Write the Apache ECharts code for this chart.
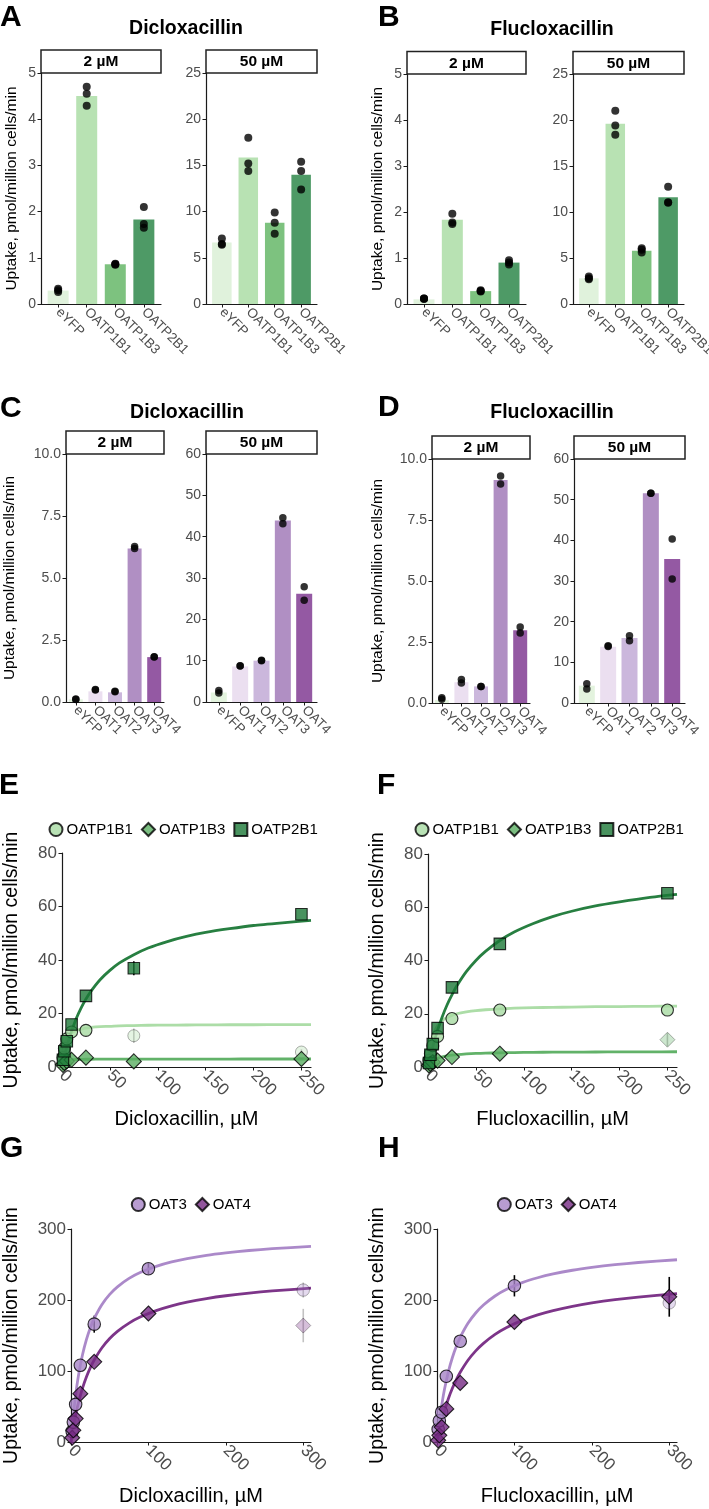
<!DOCTYPE html>
<html><head><meta charset="utf-8">
<script src="https://cdn.jsdelivr.net/npm/echarts@6/dist/echarts.min.js"></script>
<style>html,body{margin:0;padding:0;background:#fff}#c{width:709px;height:1509px}</style>
</head><body><div id="c"></div>
<script>
// ---------------- DATA ----------------
const catsOATP = ['eYFP', 'OATP1B1', 'OATP1B3', 'OATP2B1'];
const catsOAT = ['eYFP', 'OAT1', 'OAT2', 'OAT3', 'OAT4'];

// Panel A: Dicloxacillin, OATP
const dicloOATP2Bars = [0.29, 4.50, 0.86, 1.83];
const dicloOATP2Pts = [[0.26, 0.30, 0.33], [4.70, 4.55, 4.29], [0.85, 0.86, 0.87], [2.10, 1.73, 1.65]];
const dicloOATP50Bars = [6.66, 15.85, 8.8, 14.0];
const dicloOATP50Pts = [[7.1, 6.5, 6.4], [18.0, 15.2, 14.4], [9.9, 8.8, 7.6], [15.4, 14.4, 12.4]];
// Panel B: Flucloxacillin, OATP
const fluOATP2Bars = [0.10, 1.83, 0.28, 0.90];
const fluOATP2Pts = [[0.12, 0.11, 0.12], [1.96, 1.77, 1.74], [0.30, 0.27, 0.28], [0.95, 0.90, 0.86]];
const fluOATP50Bars = [2.79, 19.6, 5.8, 11.6];
const fluOATP50Pts = [[3.0, 2.8, 2.7], [21.0, 19.4, 18.4], [6.05, 5.9, 5.6], [12.75, 11.05, 11.0]];
// Panel C: Dicloxacillin, OAT
const dicloOAT2Bars = [0.11, 0.43, 0.39, 6.19, 1.81];
const dicloOAT2Pts = [[0.12, 0.10], [0.50, 0.48], [0.43, 0.41], [6.27, 6.19], [1.81, 1.82]];
const dicloOAT50Bars = [2.3, 8.6, 10.0, 43.9, 26.2];
const dicloOAT50Pts = [[2.8, 2.2], [8.8, 8.7], [10.1, 10.0], [44.6, 43.1], [27.9, 24.6]];
// Panel D: Flucloxacillin, OAT
const fluOAT2Bars = [0.12, 0.85, 0.68, 9.14, 2.98];
const fluOAT2Pts = [[0.22, 0.15], [0.96, 0.82], [0.68, 0.68], [9.3, 8.98], [3.11, 2.87]];
const fluOAT50Bars = [4.26, 13.85, 16.0, 51.6, 35.4];
const fluOAT50Pts = [[4.75, 3.44], [14.1, 13.9], [16.56, 15.3], [51.6, 51.6], [40.3, 30.5]];

// Panel E: Dicloxacillin kinetics (OATP) [conc, uptake]
const eOATP1B1 = [[1, 3.5], [2.5, 7], [5, 10.5], [10, 13.1], [25, 13.7]];
const eOATP1B1Excl = [[75, 11.7], [250, 5.6]];
const eOATP1B3 = [[1, 0.8], [2.5, 1.5], [5, 2.2], [10, 2.7], [25, 3.5], [75, 2.1], [250, 3.0]];
const eOATP2B1 = [[1, 2.7], [2.5, 5.9], [5, 9.6], [10, 15.9], [25, 26.6], [75, 36.9], [250, 57.1]];
const eErr = [[75, 36.9, 2.6]];
const eErrExcl = [[75, 11.7, 2.7], [250, 5.6, 1.0]];
// fitted curves
const eFitX = [0, 1, 2.5, 5, 7.5, 10, 15, 20, 25, 30, 40, 50, 60, 75, 90, 110, 130, 150, 175, 200, 230, 260];
const eFitOATP1B1 = [0, 4.6, 8.0, 10.7, 12.0, 12.8, 13.7, 14.2, 14.5, 14.8, 15.1, 15.2, 15.4, 15.5, 15.6, 15.65, 15.7, 15.75, 15.8, 15.8, 15.85, 15.85];
const eFitOATP1B3 = [0, 1.5, 2.1, 2.5, 2.65, 2.7, 2.8, 2.85, 2.9, 2.9, 2.93, 2.94, 2.95, 2.96, 2.97, 2.97, 2.98, 2.98, 2.98, 2.99, 2.99, 2.99];
const eFitOATP2B1 = [0, 1.67, 4.0, 7.5, 10.65, 13.4, 18.2, 22.1, 25.4, 28.2, 32.7, 36.1, 38.9, 42.0, 44.5, 46.9, 48.8, 50.3, 51.7, 52.9, 53.9, 54.8];

// Panel F: Flucloxacillin kinetics (OATP)
const fOATP1B1 = [[1, 2.5], [2.5, 5], [5, 8], [10, 11.5], [25, 18.2], [75, 21.4], [250, 21.4]];
const fOATP1B3 = [[1, 0.6], [2.5, 1.2], [5, 1.8], [10, 2.4], [25, 3.75], [75, 5.0]];
const fOATP1B3Excl = [[250, 10.25]];
const fOATP2B1 = [[1, 1.5], [2.5, 4.6], [5, 8.6], [10, 14.6], [25, 29.9], [75, 46.25], [250, 65.25]];
const fErr = [];
const fErrExcl = [[250, 10.25, 2.5]];
const fFitX = [0, 1, 2.5, 5, 7.5, 10, 15, 20, 25, 30, 40, 50, 60, 75, 90, 110, 130, 150, 175, 200, 230, 260];
const fFitOATP1B1 = [0, 3.9, 7.8, 11.65, 14.0, 15.5, 17.5, 18.6, 19.4, 20.0, 20.7, 21.2, 21.5, 21.8, 22.1, 22.3, 22.4, 22.5, 22.65, 22.7, 22.8, 22.9];
const fFitOATP1B3 = [0, 0.66, 1.4, 2.3, 2.85, 3.3, 3.85, 4.2, 4.45, 4.65, 4.9, 5.1, 5.2, 5.33, 5.42, 5.5, 5.56, 5.6, 5.64, 5.67, 5.7, 5.72];
const fFitOATP2B1 = [0, 1.65, 4.0, 7.6, 10.9, 13.8, 19.0, 23.4, 27.1, 30.4, 35.8, 40.0, 43.4, 47.5, 50.7, 53.9, 56.5, 58.5, 60.5, 62.0, 63.6, 64.8];

// Panel G: Dicloxacillin kinetics (OAT)
const gOAT3 = [[1.5, 15], [3, 28], [6, 53], [12, 108], [30, 166], [100, 244]];
const gOAT3Excl = [[300, 214]];
const gOAT4 = [[1.5, 6], [3, 16.5], [6, 33], [12, 68], [30, 113], [100, 181]];
const gOAT4Excl = [[300, 164]];
const gErr = [[30, 166, 12], [100, 244, 8]];
const gErrExcl = [[300, 214, 10.6], [300, 164, 23.5]];
const gFitX = [0, 1, 2, 3.5, 5, 7.5, 10, 15, 20, 25, 30, 40, 50, 60, 75, 90, 110, 130, 150, 175, 200, 230, 260, 310];
const gFitOAT3 = [0, 13.5, 25.9, 42.5, 57.2, 78.4, 95.8, 123.5, 144.5, 160.8, 174, 193.8, 208, 218.6, 230.4, 239, 247.4, 253.6, 258.3, 263, 266.4, 269.7, 272.3, 275.6];
const gFitOAT4 = [0, 7.2, 14, 23.6, 32.3, 45.4, 56.9, 76.3, 91.9, 104.8, 115.6, 132.8, 145.7, 155.9, 167.5, 176.3, 185.1, 191.8, 197, 202, 206, 209.8, 212.8, 216.6];

// Panel H: Flucloxacillin kinetics (OAT)
const hOAT3 = [[1.5, 18], [3, 30], [6, 42], [12, 92.6], [30, 142], [100, 220]];
const hOAT3Excl = [[300, 196]];
const hOAT4 = [[1.5, 2.3], [3, 9.4], [6, 21], [12, 46.5], [30, 83.2], [100, 169], [300, 204.5]];
const hOAT4Excl = [];
const hErr = [[100, 220, 15], [300, 204.5, 28]];
const hErrExcl = [[300, 196, 6]];
const hFitX = [0, 1, 2, 3.5, 5, 7.5, 10, 15, 20, 25, 30, 40, 50, 60, 75, 90, 110, 130, 150, 175, 200, 230, 260, 310];
const hFitOAT3 = [0, 10.1, 19.4, 32.3, 44, 61.1, 76, 100.3, 119.4, 134.8, 147.5, 167.2, 181.7, 192.9, 205.6, 215, 224.4, 231.3, 236.7, 241.9, 245.9, 249.8, 252.8, 256.7];
const hFitOAT4 = [0, 5.5, 10.7, 18.1, 25, 35.6, 45.2, 62, 76, 87.9, 98.3, 115.2, 128.4, 139, 151.6, 161.3, 171.3, 179, 185, 191.1, 195.9, 200.5, 204.1, 208.9];

const xTicksOATP = [0, 50, 100, 150, 200, 250];
const xTicksOAT = [0, 100, 200, 300];

// ---------------- STYLE ----------------
const FONT = '"Liberation Sans", Arial, Helvetica, sans-serif';
const AX = '#1a1a1a', TL = '#4d4d4d';
const colorsOATP = ['#e0f2dc', '#b8e2b3', '#7dc27f', '#4e9a66'];
const colorsOAT = ['#e3f3de', '#ebdff0', '#cbb7dc', '#b08fc3', '#9459a3'];
const cO1B1 = '#a8dba2', cO1B3 = '#5aae61', cO2B1 = '#1b7837';
const cOAT3 = '#a683c6', cOAT4 = '#762a83';
const Y_NAME = 'Uptake, pmol/million cells/min';

const grids = [], xAxes = [], yAxes = [], series = [], graphics = [], legends = [];
const zip = (xs, ys) => xs.map((x, i) => [x, ys[i]]);

function axisBase() {
  return {
    axisLine: { show: true, onZero: false, lineStyle: { color: AX, width: 1.2 } },
    splitLine: { show: false }
  };
}

function barPanel(p) {
  const gi = grids.length;
  grids.push({ left: p.left, top: p.top, width: p.width, height: p.height, containLabel: false, outerBoundsMode: 'none' });
  const idx = p.cats.map((c, i) => i + 1);
  const lab = { rotate: -45, fontSize: 13.5, color: TL, margin: 6, fontFamily: FONT };
  let xOff;
  if (p.useCat) {
    // category axis so every (overlapping) label is kept
    xOff = 0;
    xAxes.push(Object.assign(axisBase(), {
      gridIndex: gi, type: 'category', data: p.cats, boundaryGap: true,
      axisTick: { show: true, alignWithLabel: true, interval: 0, length: 3.5, lineStyle: { color: AX } },
      axisLabel: Object.assign({ interval: 0 }, lab)
    }));
  } else {
    xOff = 1;
    xAxes.push(Object.assign(axisBase(), {
      gridIndex: gi, type: 'value', min: 0.4, max: p.cats.length + 0.6,
      axisTick: { show: true, customValues: idx, length: 3.5, lineStyle: { color: AX } },
      axisLabel: Object.assign({ customValues: idx, showMinLabel: true, showMaxLabel: true,
        formatter: v => p.cats[Math.round(v) - 1] || '' }, lab)
    }));
  }
  yAxes.push(Object.assign(axisBase(), {
    gridIndex: gi, type: 'value', min: 0, max: p.yMax, interval: p.yInt,
    name: p.yName ? Y_NAME : '', nameLocation: 'middle', nameGap: p.yNameGap || 20,
    nameTextStyle: { fontSize: 15.5, color: '#000', fontFamily: FONT },
    axisTick: { show: true, length: 3.5, lineStyle: { color: AX } },
    axisLabel: { fontSize: 14, color: TL, margin: 5, fontFamily: FONT, showMinLabel: true, showMaxLabel: true, formatter: p.fmt || (v => String(v)) }
  }));
  series.push({
    type: 'bar', xAxisIndex: gi, yAxisIndex: gi, barWidth: p.barWidth, silent: true,
    data: p.bars.map((v, i) => ({ value: [i + xOff, v], itemStyle: { color: p.colors[i] } }))
  });
  const dots = [];
  p.pts.forEach((arr, i) => arr.forEach(v => dots.push([i + xOff, v])));
  series.push({ type: 'scatter', xAxisIndex: gi, yAxisIndex: gi, symbolSize: p.dot, itemStyle: { color: '#000' }, data: dots, silent: true });
  graphics.push({ type: 'rect', shape: { x: p.left, y: p.top - p.stripH, width: p.width, height: p.stripH },
    style: { fill: '#fff', stroke: '#222', lineWidth: 1.5 } });
  graphics.push({ type: 'text', x: p.left + p.width / 2, y: p.top - p.stripH / 2 + 0.5,
    style: { text: p.strip, fontSize: 15.5, fontWeight: 'bold', fontFamily: FONT, fill: '#000', align: 'center', verticalAlign: 'middle' } });
}

function errSeries(gi, data, color, opacity) {
  return {
    type: 'custom', xAxisIndex: gi, yAxisIndex: gi, silent: true, data: data,
    encode: { x: 0, y: 1 },
    renderItem: (params, api) => {
      const x = api.value(0), y = api.value(1), e = api.value(2);
      const a = api.coord([x, y - e]), b = api.coord([x, y + e]);
      return { type: 'line', shape: { x1: a[0], y1: a[1], x2: b[0], y2: b[1] }, style: { stroke: color, lineWidth: 1.6, opacity: opacity } };
    }
  };
}

function curvePanel(p) {
  const gi = grids.length;
  grids.push({ left: p.left, top: p.top, width: p.width, height: p.height, containLabel: false, outerBoundsMode: 'none' });
  xAxes.push(Object.assign(axisBase(), {
    gridIndex: gi, type: 'value', min: 0, max: p.xMax,
    name: p.xName, nameLocation: 'middle', nameGap: p.xNameGap,
    nameTextStyle: { fontSize: 20, color: '#000', fontFamily: FONT },
    axisTick: { show: true, customValues: p.xTicks, length: 3.5, lineStyle: { color: AX } },
    axisLabel: { customValues: p.xTicks, showMinLabel: true, rotate: -45, fontSize: 17, color: TL, margin: 6, fontFamily: FONT }
  }));
  yAxes.push(Object.assign(axisBase(), {
    gridIndex: gi, type: 'value', min: 0, max: p.yMax, interval: p.yInt,
    name: Y_NAME, nameLocation: 'middle', nameGap: p.yNameGap,
    nameTextStyle: { fontSize: 19.5, color: '#000', fontFamily: FONT },
    axisTick: { show: true, length: 3.5, lineStyle: { color: AX } },
    axisLabel: { fontSize: 17, color: TL, margin: 5, fontFamily: FONT, showMinLabel: true, showMaxLabel: true }
  }));
  p.groups.forEach(g => {
    series.push({ type: 'line', name: g.name + ' fit', xAxisIndex: gi, yAxisIndex: gi, data: zip(p.fitX, g.fit), smooth: 0.2,
      showSymbol: false, symbol: 'none', silent: true, lineStyle: { color: g.color, width: 2.8, opacity: 0.95 }, z: 2 });
  });
  series.push(errSeries(gi, p.errExcl, '#777', 0.45));
  p.groups.forEach(g => {
    if (g.excl && g.excl.length) series.push({ type: 'scatter', name: g.name + ' excluded', xAxisIndex: gi, yAxisIndex: gi, data: g.excl, symbol: g.symbol, symbolSize: g.size, silent: true,
      itemStyle: { color: g.color, borderColor: '#000', borderWidth: 1, opacity: 0.3 }, z: 3 });
  });
  series.push(errSeries(gi, p.err, '#000', 1));
  p.groups.forEach(g => {
    series.push({ type: 'scatter', name: g.name, xAxisIndex: gi, yAxisIndex: gi, data: g.pts, symbol: g.symbol, symbolSize: g.size, silent: true,
      itemStyle: { color: g.color, borderColor: '#000', borderWidth: 1.1 }, z: 4 });
  });
  legends.push({ left: p.legLeft, top: p.legTop, padding: 0, itemWidth: 13, itemHeight: 13, itemGap: 8, selectedMode: false,
    data: p.groups.map(g => g.name), textStyle: { fontSize: 15, color: '#000', fontFamily: FONT, padding: [0, 0, 0, -1] } });
}

// ---------------- PANELS ----------------
barPanel({ left: 41, top: 73, width: 120, height: 231, cats: catsOATP, bars: dicloOATP2Bars, pts: dicloOATP2Pts, colors: colorsOATP,
  yMax: 5, yInt: 1, yName: true, yNameGap: 21, barWidth: 21, dot: 8, strip: '2 µM', stripH: 23 });
barPanel({ left: 206, top: 73, width: 111, height: 231, cats: catsOATP, bars: dicloOATP50Bars, pts: dicloOATP50Pts, colors: colorsOATP,
  yMax: 25, yInt: 5, barWidth: 19.5, dot: 8, strip: '50 µM', stripH: 23 });
barPanel({ left: 407, top: 74, width: 119, height: 230, cats: catsOATP, bars: fluOATP2Bars, pts: fluOATP2Pts, colors: colorsOATP,
  yMax: 5, yInt: 1, yName: true, yNameGap: 21, barWidth: 21, dot: 8, strip: '2 µM', stripH: 22.5 });
barPanel({ left: 573, top: 74, width: 111, height: 230, cats: catsOATP, bars: fluOATP50Bars, pts: fluOATP50Pts, colors: colorsOATP,
  yMax: 25, yInt: 5, barWidth: 19.5, dot: 8, strip: '50 µM', stripH: 22.5 });
const fmt1 = v => v.toFixed(1);
barPanel({ left: 66, top: 454, width: 98, height: 248, cats: catsOAT, bars: dicloOAT2Bars, pts: dicloOAT2Pts, colors: colorsOAT, useCat: true,
  yMax: 10, yInt: 2.5, fmt: fmt1, yName: true, yNameGap: 48, barWidth: 14, dot: 7.5, strip: '2 µM', stripH: 23 });
barPanel({ left: 206, top: 454, width: 111, height: 248, cats: catsOAT, bars: dicloOAT50Bars, pts: dicloOAT50Pts, colors: colorsOAT,
  yMax: 60, yInt: 10, barWidth: 16, dot: 7.5, strip: '50 µM', stripH: 23 });
barPanel({ left: 432, top: 459, width: 98, height: 244, cats: catsOAT, bars: fluOAT2Bars, pts: fluOAT2Pts, colors: colorsOAT, useCat: true,
  yMax: 10, yInt: 2.5, fmt: fmt1, yName: true, yNameGap: 46, barWidth: 14, dot: 7.5, strip: '2 µM', stripH: 23 });
barPanel({ left: 574, top: 459, width: 111, height: 244, cats: catsOAT, bars: fluOAT50Bars, pts: fluOAT50Pts, colors: colorsOAT,
  yMax: 60, yInt: 10, barWidth: 16, dot: 7.5, strip: '50 µM', stripH: 23 });

curvePanel({ left: 62, top: 853, width: 249, height: 214, xMax: 260, xTicks: xTicksOATP, yMax: 80, yInt: 20, fitX: eFitX,
  xName: 'Dicloxacillin, µM', xNameGap: 42, yNameGap: 40, legLeft: 48.5, legTop: 822, err: eErr, errExcl: eErrExcl,
  groups: [
    { name: 'OATP1B1', color: cO1B1, symbol: 'circle', size: 12, pts: eOATP1B1, excl: eOATP1B1Excl, fit: eFitOATP1B1 },
    { name: 'OATP1B3', color: cO1B3, symbol: 'diamond', size: 15, pts: eOATP1B3, excl: [], fit: eFitOATP1B3 },
    { name: 'OATP2B1', color: cO2B1, symbol: 'rect', size: 11.5, pts: eOATP2B1, excl: [], fit: eFitOATP2B1 }
  ] });
curvePanel({ left: 428, top: 854, width: 249, height: 213, xMax: 260, xTicks: xTicksOATP, yMax: 80, yInt: 20, fitX: fFitX,
  xName: 'Flucloxacillin, µM', xNameGap: 42, yNameGap: 40, legLeft: 414.5, legTop: 822, err: fErr, errExcl: fErrExcl,
  groups: [
    { name: 'OATP1B1', color: cO1B1, symbol: 'circle', size: 12, pts: fOATP1B1, excl: [], fit: fFitOATP1B1 },
    { name: 'OATP1B3', color: cO1B3, symbol: 'diamond', size: 15, pts: fOATP1B3, excl: fOATP1B3Excl, fit: fFitOATP1B3 },
    { name: 'OATP2B1', color: cO2B1, symbol: 'rect', size: 11.5, pts: fOATP2B1, excl: [], fit: fFitOATP2B1 }
  ] });
curvePanel({ left: 71, top: 1229, width: 240, height: 213, xMax: 310, xTicks: xTicksOAT, yMax: 300, yInt: 100, fitX: gFitX,
  xName: 'Dicloxacillin, µM', xNameGap: 44, yNameGap: 49, legLeft: 130.8, legTop: 1197, err: gErr, errExcl: gErrExcl,
  groups: [
    { name: 'OAT3', color: cOAT3, symbol: 'circle', size: 12.5, pts: gOAT3, excl: gOAT3Excl, fit: gFitOAT3 },
    { name: 'OAT4', color: cOAT4, symbol: 'diamond', size: 15, pts: gOAT4, excl: gOAT4Excl, fit: gFitOAT4 }
  ] });
curvePanel({ left: 437, top: 1229, width: 240, height: 213, xMax: 310, xTicks: xTicksOAT, yMax: 300, yInt: 100, fitX: hFitX,
  xName: 'Flucloxacillin, µM', xNameGap: 44, yNameGap: 49, legLeft: 496.8, legTop: 1197, err: hErr, errExcl: hErrExcl,
  groups: [
    { name: 'OAT3', color: cOAT3, symbol: 'circle', size: 12.5, pts: hOAT3, excl: hOAT3Excl, fit: hFitOAT3 },
    { name: 'OAT4', color: cOAT4, symbol: 'diamond', size: 15, pts: hOAT4, excl: hOAT4Excl, fit: hFitOAT4 }
  ] });

// panel letters & titles
const letters = [['A', 0, 18], ['B', 378, 18], ['C', 0, 408.5], ['D', 378, 408], ['E', -1, 786], ['F', 377, 786], ['G', 0, 1148.5], ['H', 378, 1149]];
letters.forEach(([t, x, y]) => graphics.push({ type: 'text', x: x, y: y,
  style: { text: t, fontSize: 30, fontWeight: 'bold', fontFamily: FONT, fill: '#000', align: 'left', verticalAlign: 'middle' } }));
const titles = [['Dicloxacillin', 186, 29], ['Flucloxacillin', 552, 29.5], ['Dicloxacillin', 187, 413], ['Flucloxacillin', 552, 413]];
titles.forEach(([t, x, y]) => graphics.push({ type: 'text', x: x, y: y,
  style: { text: t, fontSize: 19.5, fontWeight: 'bold', fontFamily: FONT, fill: '#000', align: 'center', verticalAlign: 'middle' } }));

const chart = echarts.init(document.getElementById('c'), null, { renderer: 'canvas', width: 709, height: 1509 });
chart.setOption({
  animation: false,
  backgroundColor: '#fff',
  textStyle: { fontFamily: FONT },
  grid: grids, xAxis: xAxes, yAxis: yAxes, series: series, legend: legends,
  graphic: { elements: graphics }
});
</script></body></html>
